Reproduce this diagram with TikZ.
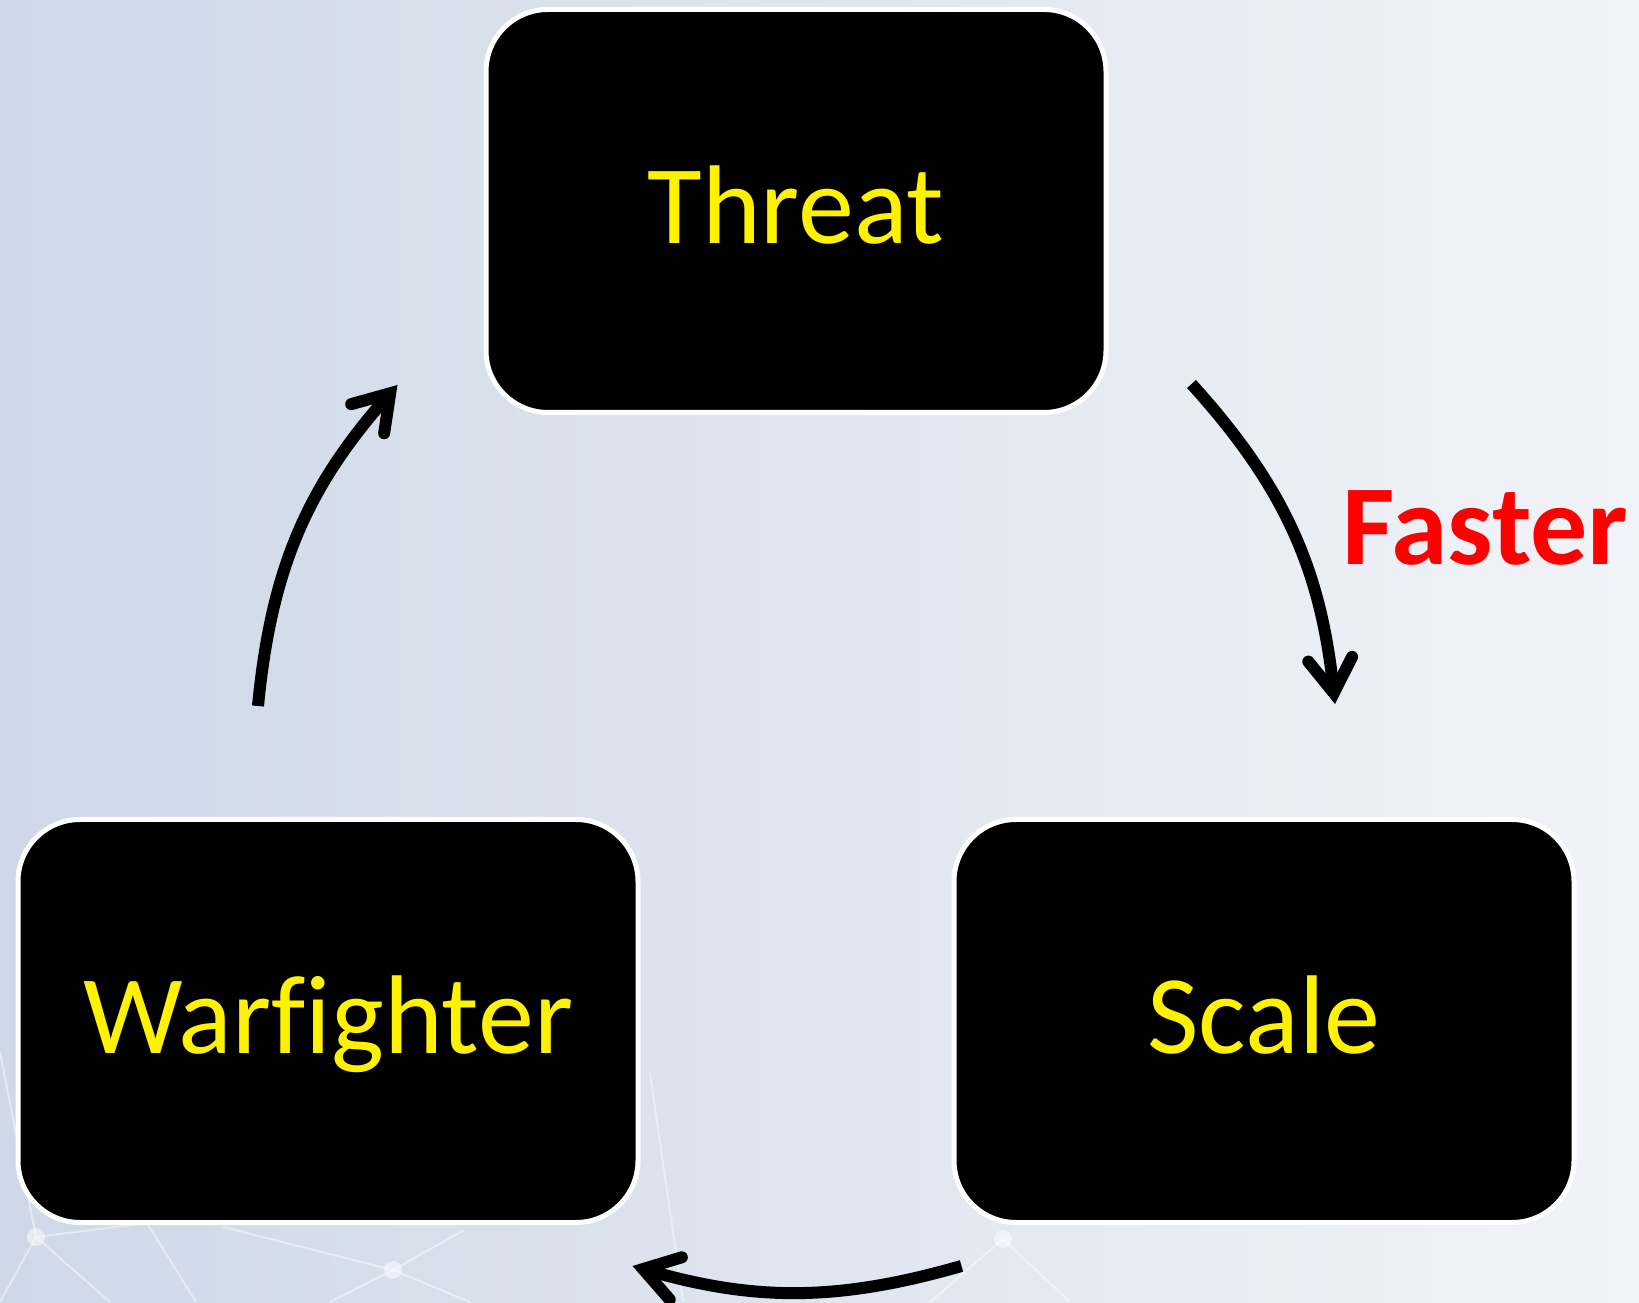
\documentclass[tikz,border=0pt]{standalone}
\usepackage{fontspec}
\setmainfont{Carlito}[Ligatures=NoCommon]
\usetikzlibrary{arrows.meta,calc,positioning}

\definecolor{bgleft}{RGB}{206,216,231}
\definecolor{bgright}{RGB}{241,243,248}

\begin{document}
\begin{tikzpicture}[x=1pt,y=1pt,
    stage/.style={draw=white, line width=5pt, fill=black, rounded corners=62pt,
        minimum width=620pt, minimum height=403pt, text=yellow,
        font=\fontsize{112}{134}\selectfont, text height=68pt, text depth=2pt},
    loopArrow/.style={line width=12pt,
        -{Straight Barb[length=34pt,width=44pt,line cap=round,line join=miter]}},
    net/.style={white, line width=2pt, opacity=0.45}]
    % Parameters
    \def\W{1639}
    \def\H{1302}

    % Background
    \shade[left color=bgleft, right color=bgright] (0,0) rectangle (\W,\H);
    \useasboundingbox (0,0) rectangle (\W,\H);

    % Faint network in the background
    \foreach \a/\b in {{0,250}/{36,65}, {36,65}/{0,0}, {36,65}/{147,79}, {147,79}/{196,0},
                       {36,65}/{110,0}, {223,75}/{393,32}, {393,32}/{464,72}, {393,32}/{330,0},
                       {393,32}/{470,0}, {650,229}/{683,0}, {1003,63}/{930,0}, {1003,63}/{1070,0}}
        \draw[net] (\a) -- (\b);
    \foreach \p in {{36,65}, {393,32}, {1003,63}}
        \fill[white, opacity=0.5] (\p) circle (9pt);

    % Stages
    \node[stage] (threat) at (796,1091) {Threat};
    \node[stage] (warfighter) at (328,281) {Warfighter};
    \node[stage] (scale) at (1264,281) {Scale};

    % Label
    \node[text=red, font=\bfseries\fontsize{114}{136}\selectfont, anchor=base west, inner sep=0pt]
        (faster) at (1342,737) {Faster};

    % Arrow ends
    \coordinate (tsStart) at ($(threat.south east)+(83,31)$);
    \coordinate (tsEnd) at ($(scale.north)+(71,113)$);
    \coordinate (swStart) at ($(scale.south west)+(10,-41)$);
    \coordinate (swEnd) at ($(warfighter.south east)+(-8,-41)$);
    \coordinate (wtStart) at ($(warfighter.north)+(-70,111)$);
    \coordinate (wtEnd) at ($(threat.south west)+(-86,30)$);

    % Cycle arrows
    \draw[loopArrow] (tsStart) to[bend left=18] (tsEnd);
    \draw[loopArrow] (swStart) to[bend left=16] (swEnd);
    \draw[loopArrow] (wtStart) to[bend left=18] (wtEnd);
\end{tikzpicture}
\end{document}
